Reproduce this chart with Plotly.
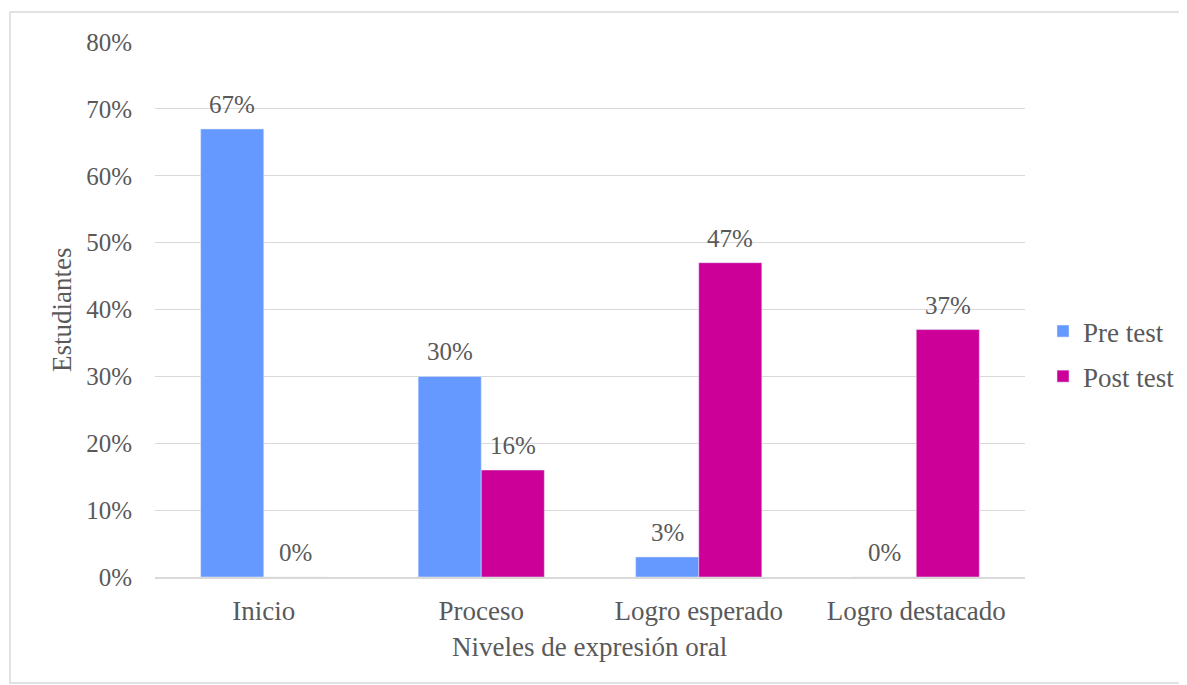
import plotly.graph_objects as go

categories = ["Inicio", "Proceso", "Logro esperado", "Logro destacado"]
pre_test = [0.67, 0.30, 0.03, 0.00]
post_test = [0.00, 0.16, 0.47, 0.37]
series_names = ["Pre test", "Post test"]
colors = ["#6699FF", "#CC0099"]

FONT = "Liberation Serif, Times New Roman, serif"
GRAY = "#595959"
FS_NUM = 25
FS_TXT = 27

# page body has an 8px margin, so figure is offset by 8px
W, H = 1179, 677
L, R, T, B = 147, 162, 34, 108
plot_w = W - L - R
plot_h = H - T - B
bargap = 0.42
bar_px = plot_w / len(categories) * (1 - bargap) / 2

fig = go.Figure()
for i, (name, vals, col) in enumerate(zip(series_names, [pre_test, post_test], colors)):
    fig.add_trace(go.Bar(
        x=categories, y=vals, name=name, marker_color=col,
        legendgroup=name,
    ))
    shift = (i - 0.5) * bar_px
    for c, v in zip(categories, vals):
        fig.add_annotation(x=c, y=v, xref="x", yref="y", text=f"{round(v*100)}%",
                           showarrow=False, xshift=shift, yshift=9, yanchor="bottom",
                           font=dict(family=FONT, size=FS_NUM, color=GRAY))

fig.update_layout(
    width=W, height=H,
    paper_bgcolor="white", plot_bgcolor="white",
    barmode="group", bargap=bargap, bargroupgap=0,
    margin=dict(l=L, r=R, t=T, b=B, autoexpand=False),
    font=dict(family=FONT, size=FS_TXT, color=GRAY),
    legend=dict(x=(1043 - 155) / plot_w, y=(577 - 354) / plot_h,
                xanchor="left", yanchor="middle",
                font=dict(family=FONT, size=FS_TXT, color=GRAY),
                traceorder="grouped", tracegroupgap=7, itemwidth=30),
    yaxis=dict(range=[0, 0.8], dtick=0.1, tickformat=".0%",
               gridcolor="#D9D9D9", gridwidth=1, zeroline=False,
               showline=False, ticks="", ticklabelstandoff=22,
               tickfont=dict(family=FONT, size=FS_NUM, color=GRAY)),
    xaxis=dict(showline=True, linecolor="#D9D9D9", linewidth=1.5,
               ticks="", ticklabelstandoff=9,
               tickfont=dict(family=FONT, size=FS_TXT, color=GRAY)),
    showlegend=True,
)
fig.add_annotation(text="Estudiantes", xref="paper", yref="paper",
                   x=(62 - 155) / plot_w, y=(577 - 310) / plot_h, textangle=-90,
                   showarrow=False, xanchor="center", yanchor="middle",
                   font=dict(family=FONT, size=FS_TXT, color=GRAY))
fig.add_annotation(text="Niveles de expresión oral", xref="paper", yref="paper",
                   x=(589 - 155) / plot_w, y=-(647 - 577) / plot_h, showarrow=False,
                   xanchor="center", yanchor="middle",
                   font=dict(family=FONT, size=FS_TXT, color=GRAY))
fig.add_shape(type="rect", xref="paper", yref="paper",
              x0=(10 - 155) / plot_w, x1=(1185 - 155) / plot_w,
              y0=-(683 - 577) / plot_h, y1=(577 - 12) / plot_h,
              line=dict(color="#D9D9D9", width=1.5), fillcolor="rgba(0,0,0,0)")
fig.write_html("out.html")
